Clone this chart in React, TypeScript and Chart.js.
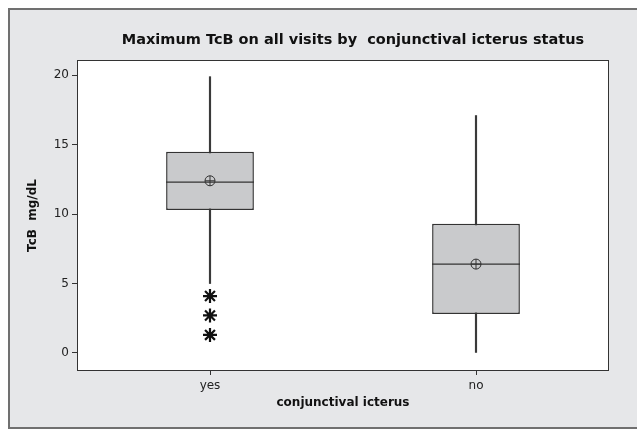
import { useEffect, useRef } from "react";
import { Chart, registerables } from "chart.js";

Chart.register(...registerables);

// ---- data ----
const categories = ["yes", "no"];
const whiskerLow = [5.0, 0.0];
const q1Values = [10.3, 2.8];
const medianValues = [12.3, 6.4];
const q3Values = [14.5, 9.3];
const whiskerHigh = [19.9, 17.1];
const meanValues = [12.4, 6.4];
const outlierCategories = ["yes", "yes", "yes"];
const outlierValues = [4.1, 2.7, 1.3];
const yTickValues = [0, 5, 10, 15, 20];

const chartTitle = "Maximum TcB on all visits by  conjunctival icterus status";
const xTitle = "conjunctival icterus";
const yTitle = "TcB  mg/dL";

const INK = "#333333";

const framePlugin = {
  id: "frame",
  afterLayout(chart: any) {
    const t = chart.titleBlock;
    if (t) {
      t.left += 20;
    }
  },
  beforeDraw(chart: any) {
    const { ctx, chartArea: a, width, height } = chart;
    ctx.save();
    ctx.fillStyle = "#ffffff";
    ctx.fillRect(0, 0, width, height);
    ctx.fillStyle = "#e6e7e9";
    ctx.fillRect(9, 9, width + 10, 419);
    ctx.strokeStyle = "#707070";
    ctx.lineWidth = 2;
    ctx.beginPath();
    ctx.moveTo(width + 10, 9);
    ctx.lineTo(9, 9);
    ctx.lineTo(9, 428);
    ctx.lineTo(width + 10, 428);
    ctx.stroke();
    ctx.fillStyle = "#ffffff";
    ctx.fillRect(a.left, a.top, a.right - a.left, a.bottom - a.top);
    ctx.restore();
  },
  afterDraw(chart: any) {
    const { ctx, chartArea: a } = chart;
    const l = Math.round(a.left) + 0.5;
    const r = Math.round(a.right) - 0.5;
    const t = Math.round(a.top) + 0.5;
    const b = Math.round(a.bottom) - 0.5;
    ctx.save();
    ctx.strokeStyle = INK;
    ctx.lineWidth = 1;
    ctx.strokeRect(l, t, r - l, b - t);
    ctx.restore();
  },
};

export default function App() {
  const canvasRef = useRef<HTMLCanvasElement | null>(null);

  useEffect(() => {
    if (!canvasRef.current) return;
    const chart = new Chart(canvasRef.current, {
      type: "bar",
      data: {
        labels: categories,
        datasets: [
          {
            type: "line",
            label: "mean-cross",
            data: meanValues,
            showLine: false,
            pointStyle: "cross",
            pointRadius: 5,
            pointHoverRadius: 5,
            pointBorderColor: INK,
            pointBorderWidth: 1,
            order: 0,
          } as any,
          {
            type: "line",
            label: "mean",
            data: meanValues,
            showLine: false,
            pointStyle: "circle",
            pointRadius: 5,
            pointHoverRadius: 5,
            pointBackgroundColor: "rgba(0,0,0,0)",
            pointBorderColor: INK,
            pointBorderWidth: 1,
            order: 1,
          } as any,
          {
            type: "line",
            label: "median",
            data: medianValues,
            showLine: false,
            pointStyle: "line",
            pointRadius: 44,
            pointHoverRadius: 44,
            pointBorderColor: INK,
            pointBorderWidth: 1.2,
            order: 2,
          } as any,
          {
            type: "line",
            label: "outliers",
            data: outlierCategories.map((c, i) => ({ x: c, y: outlierValues[i] })),
            showLine: false,
            pointStyle: "star",
            pointRadius: 7,
            pointHoverRadius: 7,
            pointBorderColor: "#111111",
            pointBorderWidth: 2.2,
            order: 3,
          } as any,
          {
            type: "bar",
            label: "box",
            data: categories.map((_, i) => [q1Values[i], q3Values[i]]),
            backgroundColor: "#c9cacc",
            borderColor: INK,
            borderWidth: 1.5,
            borderSkipped: false,
            barPercentage: 0.33,
            categoryPercentage: 1,
            grouped: false,
            order: 4,
          } as any,
          {
            type: "bar",
            label: "whisker",
            data: categories.map((_, i) => [whiskerLow[i], whiskerHigh[i]]),
            backgroundColor: "#3a3a3a",
            borderWidth: 0,
            barThickness: 1.5,
            grouped: false,
            order: 5,
          } as any,
        ],
      },
      options: {
        animation: false,
        responsive: false,
        layout: { autoPadding: false, padding: { left: 0, right: 28, top: 0, bottom: 0 } },
        plugins: {
          legend: { display: false },
          tooltip: { enabled: false },
          title: {
            display: true,
            text: chartTitle,
            fullSize: false,
            color: "#111111",
            font: { family: "DejaVu Sans", size: 14.5, weight: "bold" },
            padding: { top: 31.5, bottom: 11.1 },
          },
        },
        scales: {
          x: {
            type: "category",
            offset: true,
            grid: {
              display: true,
              offset: false,
              drawOnChartArea: false,
              drawTicks: true,
              tickLength: 4,
              color: INK,
            },
            border: { display: false },
            ticks: {
              color: "#222222",
              padding: 4,
              font: { family: "DejaVu Sans", size: 12 },
            },
            title: {
              display: true,
              text: xTitle,
              color: "#111111",
              font: { family: "DejaVu Sans", size: 12, weight: "bold" },
              padding: { top: 0, bottom: 28.8 },
            },
            afterFit: (s: any) => {
              s.height = 68;
            },
          },
          y: {
            type: "linear",
            min: -1.3,
            max: 21.1,
            grid: {
              display: true,
              drawOnChartArea: false,
              drawTicks: true,
              tickLength: 5,
              color: INK,
            },
            border: { display: false },
            ticks: {
              color: "#222222",
              padding: 3,
              includeBounds: false,
              font: { family: "DejaVu Sans", size: 12 },
            },
            afterBuildTicks: (s: any) => {
              s.ticks = yTickValues.map((v) => ({ value: v }));
            },
            title: {
              display: true,
              text: yTitle,
              color: "#111111",
              font: { family: "DejaVu Sans", size: 12, weight: "bold" },
              padding: { top: 26, bottom: 0 },
            },
            afterFit: (s: any) => {
              s.width = 77;
            },
          },
        },
      },
      plugins: [framePlugin],
    } as any);
    return () => chart.destroy();
  }, []);

  return (
    <div style={{ position: "fixed", left: 0, top: 0, width: 637, height: 439 }}>
      <canvas ref={canvasRef} width={637} height={439} style={{ display: "block" }} />
    </div>
  );
}
